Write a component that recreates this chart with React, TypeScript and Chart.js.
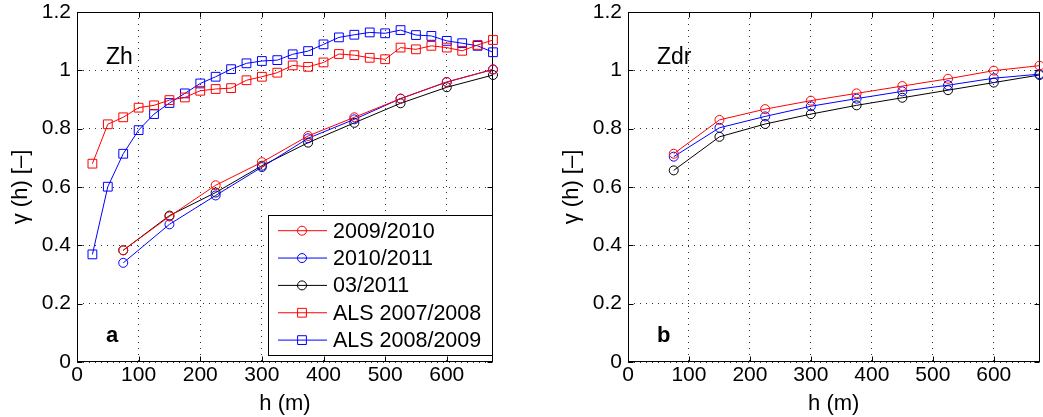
import React, { useEffect, useRef } from 'react';
import { Chart, registerables } from 'chart.js';

Chart.register(...registerables);

// ---- data ----
const hSquare = [25, 50, 75, 100, 125, 150, 175, 200, 225, 250, 275, 300, 325, 350, 375, 400, 425, 450, 475, 500, 525, 550, 575, 600, 625, 650, 675];
const als0708 = [0.68, 0.815, 0.839, 0.872, 0.88, 0.898, 0.907, 0.93, 0.936, 0.939, 0.966, 0.978, 0.992, 1.017, 1.012, 1.027, 1.056, 1.052, 1.043, 1.038, 1.078, 1.072, 1.084, 1.078, 1.067, 1.087, 1.104];
const als0809 = [0.369, 0.601, 0.714, 0.795, 0.85, 0.888, 0.921, 0.955, 0.978, 1.004, 1.024, 1.032, 1.035, 1.055, 1.066, 1.089, 1.113, 1.122, 1.13, 1.127, 1.138, 1.121, 1.118, 1.101, 1.093, 1.084, 1.062];

const hCircle = [75, 150, 225, 300, 375, 450, 525, 600, 675];
const zh0910 = [0.383, 0.499, 0.606, 0.685, 0.775, 0.839, 0.903, 0.96, 1.003];
const zh1011 = [0.34, 0.472, 0.571, 0.668, 0.767, 0.832, 0.903, 0.96, 1.003];
const zh0311 = [0.383, 0.502, 0.581, 0.673, 0.752, 0.82, 0.887, 0.942, 0.984];

const zdr0910 = [0.714, 0.83, 0.867, 0.896, 0.921, 0.946, 0.971, 0.999, 1.016];
const zdr1011 = [0.704, 0.803, 0.842, 0.877, 0.903, 0.928, 0.949, 0.973, 0.987];
const zdr0311 = [0.657, 0.772, 0.816, 0.85, 0.88, 0.906, 0.932, 0.958, 0.984];

const xTickValues = [0, 100, 200, 300, 400, 500, 600];
const yTickValues = [0, 0.2, 0.4, 0.6, 0.8, 1.0, 1.2];

const labels = ['2009/2010', '2010/2011', '03/2011', 'ALS 2007/2008', 'ALS 2008/2009'];

const FONT = '"Liberation Sans", Arial, Helvetica, sans-serif';

const pts = (xs: number[], ys: number[]) => xs.map((x, i) => ({ x, y: ys[i] }));

function ds(label: string, xs: number[], ys: number[], color: string, style: string) {
  return {
    label,
    data: pts(xs, ys),
    borderColor: color,
    backgroundColor: 'rgba(0,0,0,0)',
    borderWidth: 1,
    pointStyle: style,
    pointRadius: style === 'rect' ? 6.2 : 4.5,
    pointBorderWidth: 1,
    pointBorderColor: color,
    pointBackgroundColor: 'rgba(0,0,0,0)',
    clip: false as any,
    tension: 0,
  };
}

function drawMarker(ctx: CanvasRenderingContext2D, style: string, x: number, y: number, r: number) {
  ctx.beginPath();
  if (style === 'rect') {
    const s = Math.SQRT1_2 * r;
    ctx.rect(x - s, y - s, 2 * s, 2 * s);
  } else {
    ctx.arc(x, y, r, 0, Math.PI * 2);
  }
  ctx.stroke();
}

const framePlugin = {
  id: 'frame',
  beforeDatasetsDraw(chart: any) {
    const { ctx, chartArea: a, scales } = chart;
    ctx.save();
    ctx.strokeStyle = '#000';
    ctx.lineWidth = 1;
    ctx.beginPath();
    const L = Math.round(a.left) + 0.5;
    const R = Math.round(a.right) - 0.5;
    const T = Math.round(a.top) + 0.5;
    const B = Math.round(a.bottom) - 0.5;
    for (const t of scales.x.ticks) {
      const px = Math.round(scales.x.getPixelForValue(t.value)) + 0.5;
      ctx.moveTo(px, B); ctx.lineTo(px, B - 5);
      ctx.moveTo(px, T); ctx.lineTo(px, T + 5);
    }
    for (const t of scales.y.ticks) {
      const py = Math.round(scales.y.getPixelForValue(t.value)) + 0.5;
      ctx.moveTo(L, py); ctx.lineTo(L + 5, py);
      ctx.moveTo(R, py); ctx.lineTo(R - 5, py);
    }
    ctx.stroke();
    ctx.strokeRect(L, T, R - L, B - T);
    ctx.restore();
  },
  afterDraw(chart: any, _args: any, opts: any) {
    const { ctx, chartArea: a } = chart;
    ctx.save();
    ctx.fillStyle = '#000';
    ctx.textAlign = 'left';
    ctx.textBaseline = 'alphabetic';
    ctx.font = `23px ${FONT}`;
    ctx.fillText(opts.label, a.left + 29, a.top + 52);
    ctx.font = `bold 22px ${FONT}`;
    ctx.fillText(opts.letter, a.left + 29, a.bottom - 20);
    if (opts.legend) {
      const bx = a.left + 191;
      const by = a.top + 203;
      const bw = a.right - 1 - bx;
      const bh = a.bottom - 7 - by;
      ctx.fillStyle = '#fff';
      ctx.fillRect(bx, by, bw, bh);
      ctx.strokeStyle = '#000';
      ctx.lineWidth = 1;
      ctx.strokeRect(Math.round(bx) + 0.5, Math.round(by) + 0.5, Math.round(bw), Math.round(bh));
      ctx.font = `21.5px ${FONT}`;
      ctx.textBaseline = 'middle';
      chart.data.datasets.forEach((d: any, i: number) => {
        const y = by + 15.7 + i * 27.35;
        ctx.strokeStyle = d.borderColor;
        ctx.beginPath();
        ctx.moveTo(bx + 10, y);
        ctx.lineTo(bx + 59, y);
        ctx.stroke();
        drawMarker(ctx, d.pointStyle, bx + 34, y, d.pointStyle === 'rect' ? 6.2 : 4.5);
        ctx.fillStyle = '#000';
        ctx.fillText(d.label, bx + 65, y + 1);
      });
    }
    ctx.restore();
  },
};

function makeOptions(yAxisWidth: number, titlePad: number, padRight: number, frame: any) {
  return {
    responsive: false,
    animation: false as const,
    devicePixelRatio: 1,
    layout: { padding: { top: 12, right: padRight, bottom: 0, left: 0 } },
    plugins: {
      legend: { display: false },
      tooltip: { enabled: false },
      frame,
    },
    scales: {
      x: {
        type: 'linear' as const,
        min: 0,
        max: 675,
        afterBuildTicks: (s: any) => { s.ticks = xTickValues.map((v) => ({ value: v })); },
        afterFit: (s: any) => { s.height = 55; s.paddingLeft = 0; s.paddingRight = 0; },
        ticks: {
          color: '#000',
          font: { family: FONT, size: 21, lineHeight: 1.0 },
          padding: 3,
          maxRotation: 0,
          autoSkip: false,
          callback: (v: any) => String(v),
        },
        grid: { color: 'rgba(0,0,0,0.8)', lineWidth: 1, drawTicks: false },
        border: { display: false, dash: [1, 5] },
        title: {
          display: true,
          text: 'h (m)',
          color: '#000',
          font: { family: FONT, size: 22 },
          padding: { top: 0, bottom: 0 },
        },
      },
      y: {
        type: 'linear' as const,
        min: 0,
        max: 1.2,
        afterBuildTicks: (s: any) => { s.ticks = yTickValues.map((v) => ({ value: v })); },
        afterFit: (s: any) => { s.width = yAxisWidth; s.paddingTop = 0; s.paddingBottom = 0; },
        ticks: {
          color: '#000',
          font: { family: FONT, size: 21, lineHeight: 1.0 },
          padding: 6,
          autoSkip: false,
          callback: (v: any) => Number(v).toFixed(1).replace(/\.0$/, ''),
        },
        grid: { color: 'rgba(0,0,0,0.8)', lineWidth: 1, drawTicks: false },
        border: { display: false, dash: [1, 5] },
        title: {
          display: true,
          text: 'γ (h) [–]',
          color: '#000',
          font: { family: FONT, size: 22 },
          padding: { top: titlePad, bottom: 0 },
        },
      },
    },
  };
}

export default function App() {
  const leftRef = useRef<HTMLCanvasElement>(null);
  const rightRef = useRef<HTMLCanvasElement>(null);

  useEffect(() => {
    const left = new Chart(leftRef.current as HTMLCanvasElement, {
      type: 'line',
      data: {
        datasets: [
          ds(labels[0], hCircle, zh0910, '#ff0000', 'circle'),
          ds(labels[1], hCircle, zh1011, '#0000ff', 'circle'),
          ds(labels[2], hCircle, zh0311, '#000000', 'circle'),
          ds(labels[3], hSquare, als0708, '#ff0000', 'rect'),
          ds(labels[4], hSquare, als0809, '#0000ff', 'rect'),
        ] as any,
      },
      options: makeOptions(77, 8, 27, { label: 'Zh', letter: 'a', legend: true }) as any,
      plugins: [framePlugin as any],
    });
    const right = new Chart(rightRef.current as HTMLCanvasElement, {
      type: 'line',
      data: {
        datasets: [
          ds(labels[0], hCircle, zdr0910, '#ff0000', 'circle'),
          ds(labels[1], hCircle, zdr1011, '#0000ff', 'circle'),
          ds(labels[2], hCircle, zdr0311, '#000000', 'circle'),
        ] as any,
      },
      options: makeOptions(83, 14, 0, { label: 'Zdr', letter: 'b', legend: false }) as any,
      plugins: [framePlugin as any],
    });
    return () => {
      left.destroy();
      right.destroy();
    };
  }, []);

  return (
    <div style={{ position: 'absolute', left: 0, top: 0, width: 1043, height: 417, background: '#fff', overflow: 'hidden' }}>
      <canvas ref={leftRef} width={520} height={417} style={{ position: 'absolute', left: 0, top: 0, width: 520, height: 417 }} />
      <canvas ref={rightRef} width={500} height={417} style={{ position: 'absolute', left: 545, top: 0, width: 500, height: 417 }} />
    </div>
  );
}
